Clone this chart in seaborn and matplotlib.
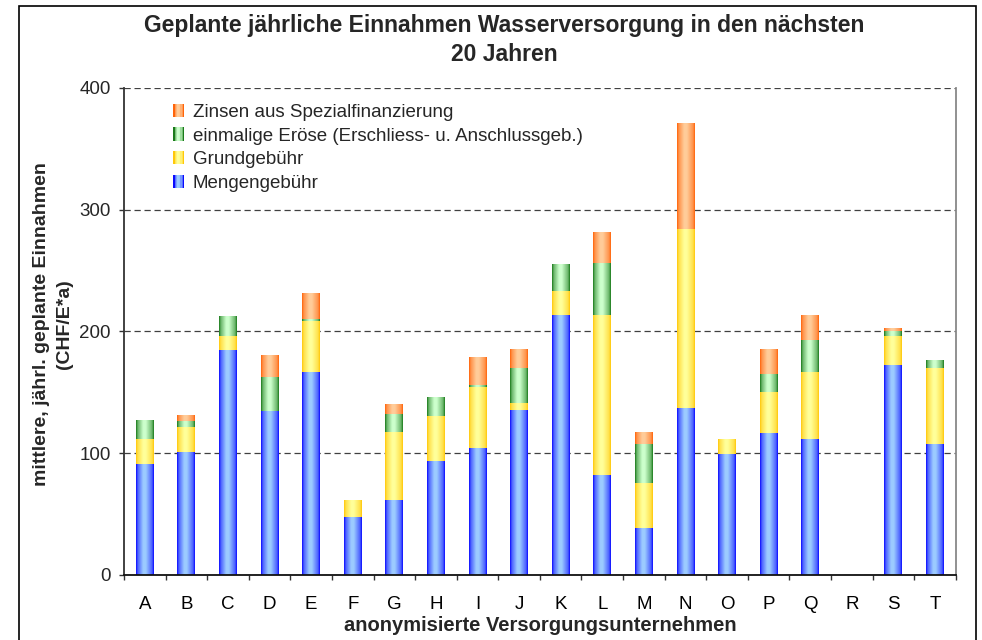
import numpy as np
import pandas as pd
import seaborn as sns
import matplotlib.pyplot as plt
from matplotlib.patches import Rectangle
from matplotlib.colors import to_rgb
from matplotlib.legend_handler import HandlerBase

# data (CHF per inhabitant and year)
firmen = list("ABCDEFGHIJKLMNOPQRST")
mengengebuehr = [91, 101, 184, 134, 166, 47.5, 61, 93, 104, 135, 213, 82, 38, 137, 99, 116, 111, 0, 172, 107]
grundgebuehr = [20, 20, 12, 0, 42, 14, 56, 37, 50, 6, 20, 131, 37, 147, 12.5, 34, 55, 0, 24, 63]
einmalig = [16, 5, 16, 28, 2, 0, 15, 16, 2, 29, 22, 43, 32, 0, 0, 15, 27, 0, 4, 6]
zinsen = [0, 5, 0, 18, 21, 0, 8, 0, 23, 15, 0, 25, 10, 87, 0, 20, 20, 0, 2.5, 0]

serien = ["Mengengebühr", "Grundgebühr",
          "einmalige Eröse (Erschliess- u. Anschlussgeb.)",
          "Zinsen aus Spezialfinanzierung"]
# (edge colour, light centre colour) for the gradient look
farben = [("#0a0aff", "#9ccbff"),
          ("#ffc80a", "#ffff99"),
          ("#1a7a1a", "#ccffcc"),
          ("#ff640a", "#ffcc99")]

df = pd.DataFrame({"firma": firmen, serien[0]: mengengebuehr, serien[1]: grundgebuehr,
                   serien[2]: einmalig, serien[3]: zinsen})
# cumulative sums for the stacking
cum = df[serien].cumsum(axis=1)
cum["firma"] = firmen


def gradient(edge, light, n=64):
    e = np.array(to_rgb(edge))
    l = np.array(to_rgb(light))
    t = np.linspace(0, 1, n)
    w = np.interp(t, [0, 0.1, 0.4, 0.55, 0.9, 1], [0, 0.45, 1, 1, 0.45, 0])
    return (e[None, :] * (1 - w[:, None]) + l[None, :] * w[:, None])[None, :, :]


class GradHandler(HandlerBase):
    def __init__(self, edge, light):
        super().__init__()
        self.edge, self.light = edge, light

    def create_artists(self, legend, orig_handle, xdescent, ydescent, width, height, fontsize, trans):
        arts = []
        g = gradient(self.edge, self.light, 8)[0]
        for i, c in enumerate(g):
            arts.append(Rectangle((-xdescent + i * width / 8, -ydescent), width / 8, height,
                                  facecolor=c, edgecolor="none", transform=trans))
        return arts


sns.set_theme(style="white")
plt.rcParams["font.family"] = ["Liberation Sans", "DejaVu Sans"]

fig = plt.figure(figsize=(9.82, 6.4), dpi=100)
ax = fig.add_axes([0.1263, 0.1016, 0.847, 0.7609])

# draw stacks from the top series down so lower segments cover the upper totals
for k in range(len(serien) - 1, -1, -1):
    sns.barplot(data=cum, x="firma", y=serien[k], color=farben[k][1], width=0.43,
                saturation=1, edgecolor="none", ax=ax)
    cont = ax.containers[-1]
    img = gradient(*farben[k])
    for p in cont.patches:
        p.set_facecolor("none")
        if p.get_height() <= 0:
            continue
        x0 = p.get_x()
        ax.imshow(img, extent=[x0, x0 + p.get_width(), 0, p.get_height()], aspect="auto",
                  zorder=1 + (len(serien) - k) * 0.1, clip_path=p, clip_on=True,
                  interpolation="bilinear")

ax.set_xlim(-0.5, len(firmen) - 0.5)
ax.set_ylim(0, 400)
ax.set_yticks([0, 100, 200, 300, 400])
ax.set_xticks(range(len(firmen)))
ax.set_xticklabels(firmen)
ax.set_xticks(np.arange(-0.5, len(firmen)), minor=True)
ax.tick_params(axis="x", which="major", length=0, pad=15, labelsize=13.5, colors="black")
ax.tick_params(axis="x", which="minor", length=3.5, width=1, color="#333333", bottom=True)
ax.tick_params(axis="y", length=3.5, width=1, pad=6, labelsize=13.5, left=True, color="#333333")

ax.set_axisbelow(True)
ax.grid(axis="y", linestyle=(0, (5, 3)), color="#404040", linewidth=0.9)
ax.spines["top"].set_visible(False)
ax.spines["left"].set_color("#333333")
ax.spines["bottom"].set_color("#111111")
ax.spines["right"].set_color("#888888")
for s in ["left", "bottom", "right"]:
    ax.spines[s].set_linewidth(1.3)

ax.set_xlabel("anonymisierte Versorgungsunternehmen", fontsize=14.5, fontweight="bold")
ax.xaxis.set_label_coords(0.5, -0.085)
ax.set_ylabel("mittlere, jährl. geplante Einnahmen\n(CHF/E*a)", fontsize=14,
              fontweight="bold", linespacing=1.5)
ax.yaxis.set_label_coords(-0.061, 0.515)

fig.text(504 / 982, 1 - 40 / 640,
         "Geplante jährliche Einnahmen Wasserversorgung in den nächsten\n20 Jahren",
         ha="center", va="center", fontsize=16.5, fontweight="bold", linespacing=1.35)

# legend (reverse order, gradient squares)
handles = [Rectangle((0, 0), 1, 1) for _ in serien]
leg = ax.legend(handles[::-1], serien[::-1], loc="upper left",
                bbox_to_anchor=(0.059, 0.968), frameon=False, fontsize=13.5,
                handlelength=0.6, handleheight=0.7, handletextpad=0.45,
                labelspacing=0.36, borderpad=0, borderaxespad=0,
                handler_map={h: GradHandler(*farben[i]) for i, h in
                             zip(range(len(serien)), handles)})

# outer chart frame
fig.patches.append(Rectangle((19 / 982, -0.05), 957 / 982, 1.05 - 6 / 640, transform=fig.transFigure,
                             fill=False, edgecolor="black", linewidth=1.2))

fig.savefig("out.png", dpi=100, facecolor="white")
